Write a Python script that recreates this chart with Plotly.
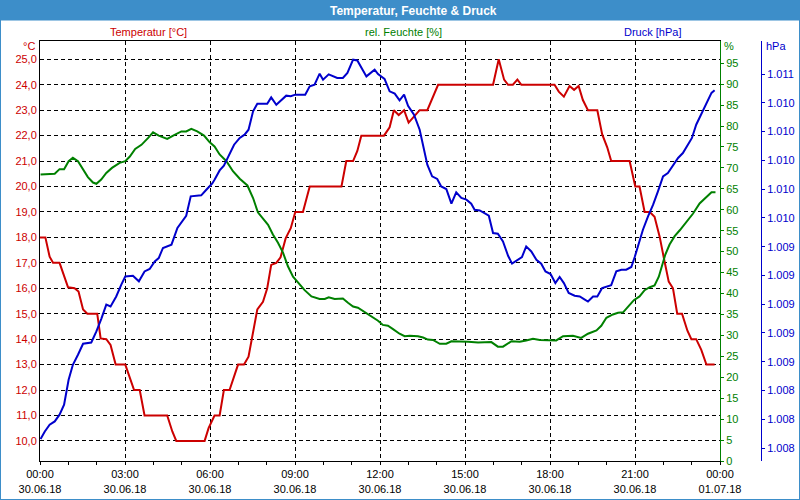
import plotly.graph_objects as go
import pandas as pd

# ---------------- data (hours after 30.06.18 00:00) ----------------
temp_hours = [0.0, 0.19, 0.34, 0.46, 0.69, 0.99, 1.22, 1.36, 1.52, 1.67, 2.02, 2.14, 2.34, 2.49, 2.67,
              3.01, 3.32, 3.52, 3.69, 4.49, 4.67, 4.81, 5.81, 5.95, 6.16, 6.34, 6.49, 6.69, 6.99, 7.2,
              7.36, 7.52, 7.67, 7.87, 8.02, 8.16, 8.34, 8.49, 8.67, 8.85, 9.01, 9.28, 9.52, 10.64, 10.81,
              11.05, 11.2, 11.34, 12.14, 12.34, 12.49, 12.66, 12.85, 13.01, 13.2, 13.4, 13.67, 13.87,
              14.05, 15.99, 16.19, 16.38, 16.52, 16.69, 16.85, 16.99, 18.16, 18.31, 18.49, 18.69, 18.85,
              19.01, 19.16, 19.34, 19.67, 19.84, 20.02, 20.16, 20.81, 21.01, 21.16, 21.34, 21.52, 21.69,
              21.87, 22.02, 22.19, 22.34, 22.49, 22.66, 22.85, 22.99, 23.16, 23.34, 23.52, 23.81]
temp_values = [18.0, 18.0, 17.24, 17.0, 17.0, 16.04, 16.0, 15.87, 15.17, 15.0, 15.0, 14.03, 14.0, 13.77, 13.0,
               13.0, 12.0, 12.0, 11.0, 11.0, 10.37, 10.0, 10.0, 10.5, 11.0, 11.0, 12.0, 12.0, 13.0, 13.0,
               13.31, 14.36, 15.17, 15.47, 16.0, 16.92, 17.0, 17.22, 17.96, 18.36, 19.0, 19.0, 20.0, 20.0, 21.0,
               21.0, 21.4, 22.0, 22.0, 22.33, 23.0, 22.81, 23.0, 22.51, 22.74, 23.0, 23.0, 23.56,
               24.0, 24.0, 25.0, 24.2, 24.0, 24.0, 24.2, 24.0, 24.0, 23.73, 23.53, 23.95, 23.8,
               23.95, 23.4, 23.0, 23.0, 22.06, 21.54, 21.0, 21.0, 20.0, 20.0, 19.0, 19.0, 18.81,
               18.03, 17.18, 16.26, 16.0, 15.0, 15.0, 14.33, 14.0, 14.0, 13.58, 13.0, 13.0]

hum_hours = [0.02, 0.52, 0.69, 0.85, 1.01, 1.16, 1.34, 1.52, 1.69, 1.87, 1.99, 2.16, 2.34, 2.54, 2.81,
             3.01, 3.17, 3.36, 3.58, 3.81, 3.99, 4.19, 4.49, 4.75, 4.99, 5.16, 5.34, 5.55, 5.79, 5.99,
             6.16, 6.34, 6.58, 6.81, 7.05, 7.32, 7.52, 7.69, 7.87, 8.05, 8.22, 8.4, 8.58, 8.75, 8.93,
             9.11, 9.34, 9.58, 9.87, 10.05, 10.19, 10.4, 10.69, 10.87, 11.05, 11.22, 11.46, 11.69, 11.93,
             12.1, 12.28, 12.46, 12.69, 12.87, 13.05, 13.34, 13.52, 13.69, 13.87, 14.11, 14.34, 14.52,
             14.93, 15.11, 15.46, 15.93, 16.16, 16.34, 16.64, 16.93, 17.16, 17.4, 17.64, 18.22, 18.46,
             18.81, 19.1, 19.34, 19.64, 19.81, 19.99, 20.22, 20.4, 20.58, 20.75, 20.96, 21.16, 21.34,
             21.52, 21.69, 21.84, 21.95, 22.07, 22.22, 22.4, 22.58, 22.81, 23.05, 23.28, 23.52, 23.7, 23.84]
hum_values = [68.4, 68.6, 69.7, 69.7, 71.6, 72.4, 71.6, 69.6, 67.8, 66.5, 66.2, 67.2, 68.8, 70.0, 71.2,
              71.6, 72.7, 74.5, 75.5, 77.1, 78.5, 77.7, 76.9, 77.9, 78.7, 78.7, 79.3, 78.7, 77.7, 76.1,
              75.1, 73.2, 71.6, 69.2, 67.4, 65.8, 62.8, 59.4, 58.0, 56.4, 54.1, 52.1, 49.7, 46.5, 44.0,
              42.5, 40.8, 39.3, 38.7, 38.7, 39.1, 38.7, 38.8, 37.8, 36.9, 36.6, 35.5, 34.4, 33.5,
              32.5, 32.3, 31.5, 30.4, 29.8, 29.9, 29.8, 29.5, 29.0, 28.9, 28.0, 28.0, 28.6,
              28.6, 28.5, 28.3, 28.4, 27.3, 27.3, 28.6, 28.5, 28.8, 29.2, 28.9, 28.8, 29.8,
              29.9, 29.4, 30.4, 31.2, 32.3, 34.2, 35.0, 35.4, 35.5, 36.8, 38.4, 39.3, 40.8,
              41.5, 41.9, 44.0, 46.7, 49.3, 51.7, 53.7, 55.1, 57.0, 59.1, 61.5, 63.0, 64.2, 64.2]

press_hours = [0.02, 0.17, 0.34, 0.52, 0.69, 0.85, 1.01, 1.16, 1.34, 1.52, 1.81, 1.99, 2.16, 2.34, 2.49,
               2.69, 2.87, 3.01, 3.28, 3.49, 3.69, 3.87, 4.05, 4.19, 4.34, 4.64, 4.85, 5.16, 5.32, 5.69,
               5.87, 6.08, 6.16, 6.34, 6.49, 6.66, 6.85, 7.05, 7.22, 7.36, 7.52, 7.67, 8.02, 8.16, 8.34,
               8.69, 8.85, 9.01, 9.36, 9.52, 9.69, 9.87, 9.99, 10.19, 10.49, 10.69, 10.85, 11.05, 11.2,
               11.52, 11.81, 11.93, 12.16, 12.34, 12.52, 12.69, 12.85, 12.99, 13.2, 13.4, 13.52, 13.67,
               13.84, 14.02, 14.16, 14.34, 14.52, 14.69, 14.87, 15.05, 15.22, 15.34, 15.52, 15.67, 15.84,
               15.99, 16.16, 16.34, 16.52, 16.66, 16.85, 17.01, 17.16, 17.34, 17.52, 17.69, 17.84, 18.02,
               18.19, 18.34, 18.49, 18.66, 18.87, 19.05, 19.2, 19.34, 19.52, 19.67, 19.84, 19.99, 20.16,
               20.34, 20.52, 20.69, 20.87, 20.99, 21.13, 21.28, 21.46, 21.64, 21.81, 21.99, 22.16, 22.34,
               22.52, 22.69, 22.85, 23.01, 23.16, 23.34, 23.52, 23.7, 23.81]
press_values = [1008.063, 1008.115, 1008.162, 1008.185, 1008.232, 1008.301, 1008.475, 1008.579, 1008.649,
                1008.725, 1008.734, 1008.811, 1008.897, 1008.997, 1008.985, 1009.054, 1009.136, 1009.193,
                1009.198, 1009.159, 1009.228, 1009.245, 1009.298, 1009.321, 1009.391, 1009.414, 1009.530,
                1009.615, 1009.750, 1009.757, 1009.796, 1009.840, 1009.866, 1009.930, 1009.963, 1010.028,
                1010.109, 1010.156, 1010.179, 1010.213, 1010.341, 1010.394, 1010.394, 1010.438, 1010.387,
                1010.450, 1010.446, 1010.457, 1010.457, 1010.515, 1010.527, 1010.603, 1010.561, 1010.598,
                1010.573, 1010.573, 1010.608, 1010.700, 1010.695, 1010.584, 1010.631, 1010.600, 1010.566,
                1010.480, 1010.464, 1010.417, 1010.457, 1010.380, 1010.318, 1010.213, 1010.109, 1009.970,
                1009.889, 1009.871, 1009.819, 1009.801, 1009.699, 1009.778, 1009.739, 1009.727, 1009.699,
                1009.657, 1009.652, 1009.634, 1009.615, 1009.495, 1009.490, 1009.437, 1009.337, 1009.282,
                1009.305, 1009.328, 1009.402, 1009.367, 1009.309, 1009.282, 1009.228, 1009.210, 1009.147,
                1009.189, 1009.147, 1009.078, 1009.059, 1009.054, 1009.036, 1009.019, 1009.054, 1009.054,
                1009.113, 1009.124, 1009.133, 1009.228, 1009.240, 1009.240, 1009.259, 1009.328, 1009.426,
                1009.518, 1009.611, 1009.692, 1009.785, 1009.889, 1009.912, 1009.963, 1010.017, 1010.051,
                1010.109, 1010.156, 1010.248, 1010.325, 1010.403, 1010.469, 1010.487]

x_tick_hours = [0, 3, 6, 9, 12, 15, 18, 21, 24]
temp_ticks = [10, 11, 12, 13, 14, 15, 16, 17, 18, 19, 20, 21, 22, 23, 24, 25]
hum_ticks = list(range(0, 100, 5))
press_ticks = [1008.0, 1008.2, 1008.4, 1008.6, 1008.8, 1009.0, 1009.2, 1009.4,
               1009.6, 1009.8, 1010.0, 1010.2, 1010.4, 1010.6]

# ---------------- styling ----------------
RED = "#cc0000"
GREEN = "#008000"
BLUE = "#0000cc"
BAR = "#3d8ec9"
FONT = "Liberation Sans"
W, H = 800, 500

base = pd.Timestamp("2018-06-30 00:00")


def to_time(hours):
    return [base + pd.Timedelta(hours=h) for h in hours]


def px_x(p):
    return p / W


def px_y(p):
    return 1 - p / H


fig = go.Figure()
fig.add_trace(go.Scatter(x=to_time(temp_hours), y=temp_values, mode="lines",
                         line=dict(color=RED, width=2), yaxis="y", hoverinfo="skip"))
fig.add_trace(go.Scatter(x=to_time(hum_hours), y=hum_values, mode="lines",
                         line=dict(color=GREEN, width=2), yaxis="y2", hoverinfo="skip"))
fig.add_trace(go.Scatter(x=to_time(press_hours), y=press_values, mode="lines",
                         line=dict(color=BLUE, width=2), yaxis="y3", hoverinfo="skip"))

xticks = to_time(x_tick_hours)
xtext = [t.strftime("%H:%M") + "<br>" + t.strftime("%d.%m.%y") for t in xticks]
minor_ticks = to_time(list(range(0, 25)))

GRIDDASH = "4px,3px"

fig.update_layout(
    width=W, height=H, autosize=False,
    margin=dict(l=0, r=0, t=0, b=0, autoexpand=False),
    paper_bgcolor="white", plot_bgcolor="white",
    showlegend=False,
    font=dict(family=FONT, size=11, color="black"),
    xaxis=dict(
        domain=[px_x(40), px_x(720)], type="date", automargin=False,
        range=[xticks[0], xticks[-1]],
        tickmode="array", tickvals=xticks, ticktext=xtext,
        ticks="outside", ticklen=3, tickcolor="black",
        minor=dict(tickmode="array", tickvals=minor_ticks, ticks="outside", ticklen=3,
                   tickcolor="black", showgrid=False),
        showgrid=True, gridcolor="black", gridwidth=1, griddash=GRIDDASH,
        showline=True, linecolor="black", linewidth=1, mirror=True,
        zeroline=False, tickfont=dict(size=11, color="black"),
    ),
    yaxis=dict(
        domain=[px_y(461), px_y(41)], range=[9.21, 25.72], automargin=False,
        tickmode="array", tickvals=temp_ticks,
        ticktext=[f"{v:.1f}".replace(".", ",") for v in temp_ticks],
        ticks="", showgrid=True, gridcolor="black", gridwidth=1, griddash=GRIDDASH,
        showline=True, linecolor="black", linewidth=1, zeroline=False,
        tickfont=dict(size=11, color=RED),
    ),
    yaxis2=dict(
        overlaying="y", side="right", anchor="x", range=[0, 100.3], automargin=False,
        tickmode="array", tickvals=hum_ticks, ticktext=[str(v) for v in hum_ticks],
        ticks="outside", ticklen=3, tickcolor=GREEN,
        showgrid=False, showline=True, linecolor=GREEN, linewidth=1, zeroline=False,
        tickfont=dict(size=11, color=GREEN),
    ),
    yaxis3=dict(
        overlaying="y", side="right", anchor="free", position=px_x(761), automargin=False,
        autoshift=False,
        range=[1007.91, 1010.83],
        tickmode="array", tickvals=press_ticks,
        ticktext=[f"{round(v):,}".replace(",", ".") for v in press_ticks],
        ticks="outside", ticklen=3, tickcolor=BLUE,
        showgrid=False, showline=True, linecolor=BLUE, linewidth=1, zeroline=False,
        tickfont=dict(size=11, color=BLUE),
    ),
    shapes=[
        dict(type="rect", xref="paper", yref="paper", x0=0, x1=1, y0=px_y(20.5), y1=1,
             fillcolor=BAR, line=dict(width=0), layer="above"),
        dict(type="rect", xref="paper", yref="paper", x0=0, x1=1, y0=0, y1=1,
             fillcolor="rgba(0,0,0,0)", line=dict(color=BAR, width=2), layer="above"),
    ],
    annotations=[
        dict(text="<b>Temperatur, Feuchte & Druck</b>", x=px_x(414), y=px_y(10.5),
             xref="paper", yref="paper", showarrow=False, xanchor="center", yanchor="middle",
             font=dict(family=FONT, size=12, color="white")),
        dict(text="Temperatur [°C]", x=px_x(148), y=px_y(32), xref="paper", yref="paper",
             showarrow=False, xanchor="center", yanchor="middle", font=dict(size=11, color=RED)),
        dict(text="rel. Feuchte [%]", x=px_x(403), y=px_y(32), xref="paper", yref="paper",
             showarrow=False, xanchor="center", yanchor="middle", font=dict(size=11, color=GREEN)),
        dict(text="Druck [hPa]", x=px_x(652), y=px_y(32), xref="paper", yref="paper",
             showarrow=False, xanchor="center", yanchor="middle", font=dict(size=11, color=BLUE)),
        dict(text="°C", x=px_x(37), y=px_y(46), xref="paper", yref="paper",
             showarrow=False, xanchor="right", yanchor="middle", font=dict(size=11, color=RED)),
        dict(text="%", x=px_x(722), y=px_y(46), xref="paper", yref="paper",
             showarrow=False, xanchor="left", yanchor="middle", font=dict(size=11, color=GREEN)),
        dict(text="hPa", x=px_x(764), y=px_y(46), xref="paper", yref="paper",
             showarrow=False, xanchor="left", yanchor="middle", font=dict(size=11, color=BLUE)),
    ],
)

fig.write_html("out.html")
